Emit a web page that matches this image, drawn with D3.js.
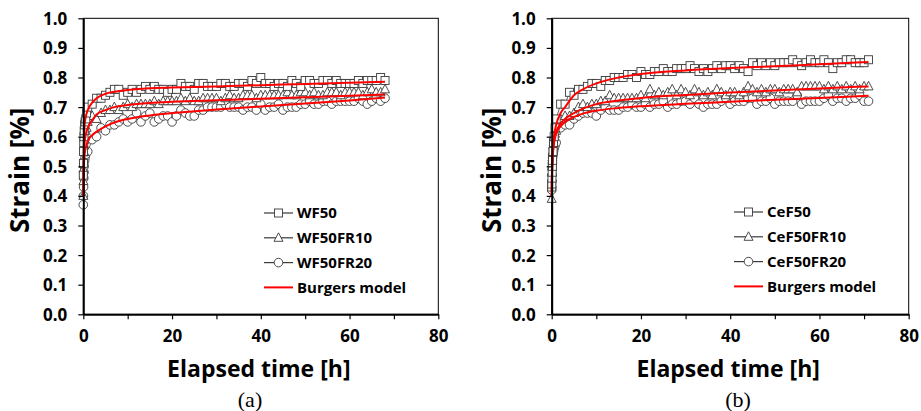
<!DOCTYPE html>
<html>
<head>
<meta charset="utf-8">
<script src="https://cdn.jsdelivr.net/npm/d3@7"></script>
<style>
  body { margin: 0; background: #fff; }
  svg { display: block; }
  .tick text { font-family: "Open Sans", sans-serif; font-weight: 700; font-size: 17px; fill: #000; }
</style>
</head>
<body>
<script>
var W = 921, H = 411;

// measurement times [h], panel (a) and (b)
var timesA = [0, 0.03, 0.06, 0.1, 0.15, 0.2, 0.3, 0.4, 0.55, 0.75,
  1, 2, 3, 4, 5, 6, 7, 8, 9, 10, 11, 12, 13, 14, 15, 16, 17, 18, 19, 20,
  21, 22, 23, 24, 25, 26, 27, 28, 29, 30, 31, 32, 33, 34, 35, 36, 37, 38, 39, 40,
  41, 42, 43, 44, 45, 46, 47, 48, 49, 50, 51, 52, 53, 54, 55, 56, 57, 58, 59, 60,
  61, 62, 63, 64, 65, 66, 67, 68];
var timesB = [0, 0.03, 0.06, 0.1, 0.15, 0.2, 0.3, 0.4, 0.55, 0.75,
  1, 2, 3, 4, 5, 6, 7, 8, 9, 10, 11, 12, 13, 14, 15, 16, 17, 18, 19, 20,
  21, 22, 23, 24, 25, 26, 27, 28, 29, 30, 31, 32, 33, 34, 35, 36, 37, 38, 39, 40,
  41, 42, 43, 44, 45, 46, 47, 48, 49, 50, 51, 52, 53, 54, 55, 56, 57, 58, 59, 60,
  61, 62, 63, 64, 65, 66, 67, 68, 69, 70, 71];

// strain [%] - panel (a)
var WF50 = [0.47, 0.51, 0.55, 0.58, 0.60, 0.62, 0.64, 0.65, 0.66, 0.68,
  0.70, 0.71, 0.73, 0.73, 0.74, 0.75, 0.76, 0.76, 0.74, 0.75, 0.76, 0.75, 0.76, 0.77, 0.76, 0.77, 0.76, 0.76, 0.75, 0.76,
  0.76, 0.78, 0.77, 0.77, 0.76, 0.78, 0.78, 0.77, 0.77, 0.77, 0.78, 0.78, 0.77, 0.77, 0.78, 0.78, 0.77, 0.79, 0.78, 0.80,
  0.78, 0.78, 0.77, 0.78, 0.78, 0.77, 0.79, 0.78, 0.77, 0.79, 0.79, 0.78, 0.78, 0.79, 0.79, 0.78, 0.79, 0.78, 0.78, 0.78,
  0.78, 0.79, 0.78, 0.79, 0.79, 0.79, 0.80, 0.79];
var WF50FR10 = [0.40, 0.45, 0.49, 0.52, 0.55, 0.57, 0.59, 0.60, 0.62, 0.63,
  0.65, 0.67, 0.66, 0.68, 0.69, 0.69, 0.70, 0.69, 0.70, 0.71, 0.70, 0.71, 0.71, 0.71, 0.71, 0.72, 0.71, 0.72, 0.72, 0.72,
  0.72, 0.73, 0.72, 0.73, 0.72, 0.72, 0.73, 0.73, 0.73, 0.73, 0.72, 0.73, 0.74, 0.73, 0.73, 0.74, 0.74, 0.74, 0.73, 0.74,
  0.74, 0.74, 0.74, 0.74, 0.74, 0.75, 0.74, 0.74, 0.75, 0.75, 0.74, 0.75, 0.74, 0.74, 0.75, 0.75, 0.75, 0.74, 0.75, 0.75,
  0.75, 0.75, 0.74, 0.75, 0.76, 0.75, 0.75, 0.76];
var WF50FR20 = [0.37, 0.40, 0.43, 0.46, 0.48, 0.50, 0.52, 0.53, 0.54, 0.55,
  0.55, 0.59, 0.60, 0.63, 0.62, 0.64, 0.64, 0.65, 0.66, 0.65, 0.66, 0.68, 0.65, 0.67, 0.68, 0.65, 0.66, 0.67, 0.67, 0.65,
  0.67, 0.69, 0.68, 0.67, 0.67, 0.69, 0.69, 0.70, 0.70, 0.70, 0.70, 0.71, 0.70, 0.70, 0.70, 0.69, 0.70, 0.70, 0.69, 0.71,
  0.69, 0.70, 0.70, 0.71, 0.69, 0.70, 0.70, 0.70, 0.71, 0.71, 0.72, 0.71, 0.71, 0.72, 0.72, 0.71, 0.72, 0.72, 0.72, 0.72,
  0.72, 0.73, 0.72, 0.71, 0.72, 0.73, 0.72, 0.73];

// strain [%] - panel (b)
var CeF50 = [0.43, 0.44, 0.46, 0.48, 0.50, 0.52, 0.55, 0.58, 0.60, 0.63,
  0.66, 0.71, 0.71, 0.75, 0.74, 0.76, 0.76, 0.77, 0.78, 0.78, 0.77, 0.79, 0.79, 0.80, 0.80, 0.80, 0.81, 0.81, 0.80, 0.82,
  0.81, 0.81, 0.82, 0.82, 0.83, 0.82, 0.82, 0.83, 0.83, 0.83, 0.84, 0.83, 0.82, 0.83, 0.82, 0.83, 0.84, 0.83, 0.84, 0.84,
  0.83, 0.84, 0.83, 0.82, 0.85, 0.84, 0.85, 0.84, 0.85, 0.84, 0.85, 0.85, 0.85, 0.86, 0.85, 0.84, 0.85, 0.86, 0.85, 0.85,
  0.86, 0.85, 0.83, 0.85, 0.85, 0.86, 0.86, 0.85, 0.85, 0.85, 0.86];
var CeF50FR10 = [0.39, 0.44, 0.48, 0.51, 0.53, 0.55, 0.57, 0.58, 0.60, 0.61,
  0.62, 0.66, 0.67, 0.67, 0.68, 0.70, 0.71, 0.70, 0.71, 0.71, 0.72, 0.72, 0.74, 0.73, 0.73, 0.73, 0.73, 0.73, 0.73, 0.74,
  0.73, 0.76, 0.74, 0.75, 0.74, 0.75, 0.76, 0.74, 0.76, 0.75, 0.74, 0.76, 0.75, 0.74, 0.75, 0.74, 0.76, 0.75, 0.74, 0.75,
  0.75, 0.74, 0.75, 0.77, 0.76, 0.75, 0.76, 0.75, 0.76, 0.76, 0.75, 0.76, 0.76, 0.76, 0.75, 0.77, 0.77, 0.77, 0.77, 0.77,
  0.76, 0.77, 0.76, 0.77, 0.76, 0.77, 0.76, 0.77, 0.76, 0.77, 0.77];
var CeF50FR20 = [0.42, 0.45, 0.47, 0.49, 0.51, 0.53, 0.54, 0.55, 0.56, 0.57,
  0.58, 0.63, 0.64, 0.64, 0.66, 0.67, 0.68, 0.68, 0.68, 0.67, 0.69, 0.70, 0.69, 0.69, 0.69, 0.70, 0.70, 0.71, 0.70, 0.70,
  0.71, 0.70, 0.71, 0.71, 0.72, 0.70, 0.71, 0.71, 0.72, 0.72, 0.71, 0.73, 0.71, 0.70, 0.71, 0.71, 0.71, 0.72, 0.73, 0.71,
  0.72, 0.72, 0.72, 0.73, 0.73, 0.71, 0.72, 0.72, 0.73, 0.71, 0.72, 0.72, 0.72, 0.72, 0.74, 0.71, 0.72, 0.72, 0.72, 0.72,
  0.73, 0.74, 0.72, 0.73, 0.73, 0.72, 0.73, 0.73, 0.74, 0.72, 0.72];

// Burgers model fit curves
var fitTimesA = [0, 0.05, 0.15, 0.3, 0.6, 1, 2, 3, 5, 7, 10, 15, 20, 30, 40, 50, 60, 68];
var fitTimesB = [0, 0.05, 0.15, 0.3, 0.6, 1, 2, 3, 5, 7, 10, 15, 20, 30, 40, 50, 60, 71];
var fitWF50 = [0.40, 0.52, 0.60, 0.64, 0.67, 0.69, 0.715, 0.73, 0.745, 0.752, 0.758, 0.764, 0.766, 0.770, 0.774, 0.778, 0.782, 0.786];
var fitWF50FR10 = [0.40, 0.48, 0.54, 0.58, 0.61, 0.63, 0.655, 0.675, 0.69, 0.70, 0.707, 0.714, 0.718, 0.723, 0.728, 0.733, 0.738, 0.743];
var fitWF50FR20 = [0.40, 0.46, 0.51, 0.54, 0.565, 0.585, 0.605, 0.617, 0.635, 0.648, 0.66, 0.672, 0.680, 0.692, 0.702, 0.712, 0.722, 0.732];
var fitCeF50 = [0.42, 0.48, 0.53, 0.57, 0.61, 0.64, 0.68, 0.70, 0.74, 0.76, 0.78, 0.80, 0.812, 0.824, 0.832, 0.838, 0.845, 0.852];
var fitCeF50FR10 = [0.40, 0.46, 0.51, 0.55, 0.59, 0.615, 0.645, 0.66, 0.68, 0.695, 0.71, 0.722, 0.731, 0.741, 0.749, 0.756, 0.763, 0.770];
var fitCeF50FR20 = [0.40, 0.46, 0.51, 0.55, 0.585, 0.61, 0.635, 0.65, 0.667, 0.678, 0.688, 0.697, 0.703, 0.711, 0.718, 0.725, 0.731, 0.738];

var xTicks = [0, 10, 20, 30, 40, 50, 60, 70, 80];
var yTicks = [0, 0.1, 0.2, 0.3, 0.4, 0.5, 0.6, 0.7, 0.8, 0.9, 1.0];
var symbols = ["square", "triangle", "circle"];

var svg = d3.select("body").append("svg")
    .attr("width", W)
    .attr("height", H);

function marker(sel, kind) {
  if (kind === "square") {
    sel.append("rect").attr("x", -4).attr("y", -4).attr("width", 8).attr("height", 8);
  } else if (kind === "triangle") {
    sel.append("path").attr("d", "M0,-5L4.5,3.5L-4.5,3.5Z");
  } else {
    sel.append("circle").attr("r", 4.3);
  }
  sel.selectAll("rect,path,circle")
      .attr("fill", "#fff")
      .attr("stroke", "#3a3a3a")
      .attr("stroke-width", 0.9);
}

function drawPanel(p) {
  var width = p.right - p.left, height = 296;
  var g = svg.append("g").attr("transform", "translate(" + p.left + ",18.3)");

  var x = d3.scaleLinear().domain([0, 80]).range([0, width]);
  var y = d3.scaleLinear().domain([0, 1]).range([height, 0]);

  // plot frame
  g.append("rect")
      .attr("width", width).attr("height", height)
      .attr("fill", "none").attr("stroke", "#000").attr("stroke-width", 1);

  var line = d3.line().x(function (d) { return x(d[0]); }).y(function (d) { return y(d[1]); });

  // measured series: thin line + hollow markers
  p.series.forEach(function (s) {
    var pts = p.times.map(function (t, k) { return [t, s[k]]; });
    g.append("path").datum(pts)
        .attr("d", line)
        .attr("fill", "none").attr("stroke", "#3a3a3a").attr("stroke-width", 0.8);
  });
  p.series.slice().reverse().forEach(function (s, ri) {
    var i = p.series.length - 1 - ri;
    var pts = p.times.map(function (t, k) { return [t, s[k]]; });
    g.append("g").selectAll("g")
        .data(pts)
        .enter().append("g")
        .attr("transform", function (d) { return "translate(" + x(d[0]) + "," + y(d[1]) + ")"; })
        .each(function () { marker(d3.select(this), symbols[i]); });
  });

  // Burgers model fits
  var fitLine = d3.line().curve(d3.curveMonotoneX)
      .x(function (d) { return x(d[0]); }).y(function (d) { return y(d[1]); });
  p.fits.forEach(function (f) {
    g.append("path")
        .datum(p.fitTimes.map(function (t, k) { return [t, f[k]]; }))
        .attr("d", fitLine)
        .attr("fill", "none").attr("stroke", "#ff0000").attr("stroke-width", 2);
  });

  // axes
  var xAxis = d3.axisBottom(x).tickValues(xTicks).tickSize(5).tickSizeOuter(0)
      .tickFormat(function (d) { return d % 20 === 0 ? d : ""; });
  var yAxis = d3.axisLeft(y).tickValues(yTicks).tickSize(5).tickSizeOuter(0)
      .tickFormat(d3.format(".1f"));

  var gx = g.append("g").attr("transform", "translate(0," + height + ")").call(xAxis);
  gx.select(".domain").attr("stroke-width", 2);
  gx.selectAll(".tick line").attr("stroke-width", 1.2);
  gx.selectAll(".tick text").attr("y", 16);

  var gy = g.append("g").call(yAxis);
  gy.select(".domain").attr("stroke-width", 2);
  gy.selectAll(".tick line").attr("stroke-width", 1.2);
  gy.selectAll(".tick text").attr("x", -16).attr("dy", "0.35em");

  // axis titles
  g.append("text")
      .attr("transform", "translate(" + (p.yTitleX - p.left) + "," + (height / 2 + 4) + ") rotate(-90)")
      .attr("text-anchor", "middle")
      .attr("dy", "0.35em")
      .style("font-family", "'Open Sans', sans-serif").style("font-weight", 700).style("font-size", "26px")
      .text("Strain [%]");

  g.append("text")
      .attr("x", width / 2 - 2).attr("y", 377 - 18.3)
      .attr("text-anchor", "middle")
      .style("font-family", "'Open Sans', sans-serif").style("font-weight", 700).style("font-size", "23px")
      .text("Elapsed time [h]");

  g.append("text")
      .attr("x", p.capX - p.left).attr("y", 407 - 18.3)
      .attr("text-anchor", "middle")
      .style("font-family", "'Liberation Serif', 'Times New Roman', serif").style("font-size", "22px")
      .text(p.caption);

  // legend
  var lg = g.append("g").attr("transform", "translate(" + (p.legX - p.left) + "," + (p.legY - 18.3) + ")");
  var rows = p.names.concat(["Burgers model"]);
  rows.forEach(function (name, i) {
    var row = lg.append("g").attr("transform", "translate(0," + (i * 24.8) + ")");
    if (i < 3) {
      row.append("line").attr("x1", 0).attr("x2", 29)
          .attr("stroke", "#3a3a3a").attr("stroke-width", 1.2);
      var m = row.append("g").attr("transform", "translate(14.5,0)");
      marker(m, symbols[i]);
    } else {
      row.append("line").attr("x1", 0).attr("x2", 29)
          .attr("stroke", "#ff0000").attr("stroke-width", 2);
    }
    row.append("text")
        .attr("x", 33).attr("dy", "0.35em")
        .style("font-family", "'Open Sans', sans-serif").style("font-weight", 700).style("font-size", "15px")
        .text(name);
  });
}

drawPanel({
  left: 83.3, right: 438.3,
  times: timesA, series: [WF50, WF50FR10, WF50FR20],
  fitTimes: fitTimesA, fits: [fitWF50, fitWF50FR10, fitWF50FR20],
  names: ["WF50", "WF50FR10", "WF50FR20"],
  yTitleX: 20, capX: 250, caption: "(a)",
  legX: 264, legY: 213
});

drawPanel({
  left: 551.7, right: 908.7,
  times: timesB, series: [CeF50, CeF50FR10, CeF50FR20],
  fitTimes: fitTimesB, fits: [fitCeF50, fitCeF50FR10, fitCeF50FR20],
  names: ["CeF50", "CeF50FR10", "CeF50FR20"],
  yTitleX: 492, capX: 738, caption: "(b)",
  legX: 734, legY: 212
});
</script>
</body>
</html>
